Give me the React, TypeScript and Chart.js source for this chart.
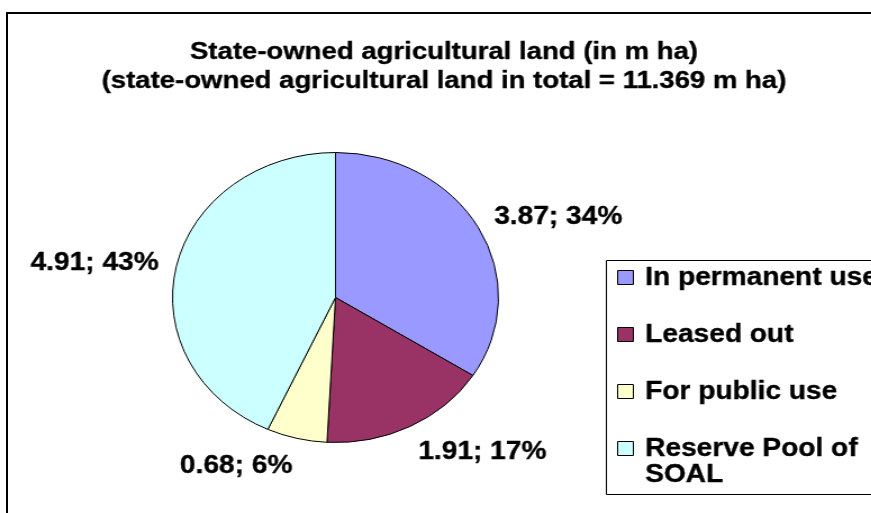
import React, { useEffect, useRef } from "react";
import { Chart, registerables } from "chart.js";

Chart.register(...registerables);

// ---- data ----
const categories = ["In permanent use", "Leased out", "For public use", "Reserve Pool of SOAL"];
const legendLines = [["In permanent use"], ["Leased out"], ["For public use"], ["Reserve Pool of", "SOAL"]];
const values = [3.87, 1.91, 0.68, 4.91];
const colors = ["#9999FF", "#993366", "#FFFFCC", "#CCFFFF"];
const titleLines = [
  "State-owned agricultural land (in m ha)",
  "(state-owned agricultural land in total = 11.369 m ha)",
];

// ---- layout (unscaled canvas space, stretched horizontally by SX) ----
const SX = 1.124;
const W = 775;
const H = 513;
const FAMILY = "'Liberation Sans', Arial, sans-serif";
const TITLE_FONT = `bold 24.5px ${FAMILY}`;
const LABEL_FONT = `bold 25px ${FAMILY}`;
const LEGEND_FONT = `bold 25px ${FAMILY}`;

function boldText(ctx: CanvasRenderingContext2D, t: string, x: number, y: number) {
  ctx.fillText(t, x, y);
  ctx.strokeText(t, x, y);
}

const decorPlugin = {
  id: "decor",
  afterDatasetsDraw(chart: any) {
    const ctx: CanvasRenderingContext2D = chart.ctx;
    ctx.save();
    ctx.fillStyle = "#000";
    ctx.strokeStyle = "#000";
    ctx.lineWidth = 0.35;
    ctx.lineJoin = "round";
    ctx.textBaseline = "alphabetic";

    // title
    ctx.font = TITLE_FONT;
    ctx.textAlign = "center";
    titleLines.forEach((t, i) => boldText(ctx, t, 395, 59 + i * 29));

    // data labels (outside end of each slice)
    ctx.font = LABEL_FONT;
    const meta = chart.getDatasetMeta(0);
    const total = values.reduce((a, b) => a + b, 0);
    meta.data.forEach((arc: any, i: number) => {
      const { x, y, startAngle, endAngle, outerRadius } = arc.getProps(
        ["x", "y", "startAngle", "endAngle", "outerRadius"],
        true
      );
      const mid = (startAngle + endAngle) / 2;
      const d = outerRadius + 16;
      const px = x + Math.cos(mid) * d;
      const py = y + Math.sin(mid) * d;
      const cy = py + Math.sin(mid) * 10;
      ctx.textAlign = Math.cos(mid) >= 0 ? "left" : "right";
      const text = `${values[i].toFixed(2)}; ${Math.round((values[i] / total) * 100)}%`;
      boldText(ctx, text, px, cy + 9);
    });

    // legend
    ctx.font = LEGEND_FONT;
    ctx.lineWidth = 1;
    ctx.strokeRect(539.5, 260.5, 400, 234);
    ctx.textAlign = "left";
    legendLines.forEach((lines, i) => {
      const b = 285 + 57 * i;
      ctx.fillStyle = colors[i];
      ctx.lineWidth = 1;
      ctx.fillRect(549.5, b - 14.5, 14, 14);
      ctx.strokeRect(549.5, b - 14.5, 14, 14);
      ctx.fillStyle = "#000";
      ctx.lineWidth = 0.35;
      lines.forEach((ln, j) => boldText(ctx, ln, 574, b + 26 * j));
    });
    ctx.restore();
  },
};

export default function App() {
  const ref = useRef<HTMLCanvasElement | null>(null);

  useEffect(() => {
    if (!ref.current) return;
    const chart = new Chart(ref.current, {
      type: "pie",
      data: {
        labels: categories,
        datasets: [
          {
            data: values,
            backgroundColor: colors,
            borderColor: "#000",
            borderWidth: 1,
            radius: 145,
            hoverOffset: 0,
          } as any,
        ],
      },
      options: {
        responsive: false,
        maintainAspectRatio: false,
        animation: false,
        layout: { padding: { left: 0, right: 178, top: 150, bottom: 68 } },
        plugins: {
          legend: { display: false },
          tooltip: { enabled: false },
          title: { display: false },
        },
        events: [],
      },
      plugins: [decorPlugin],
    });
    return () => chart.destroy();
  }, []);

  return (
    <div
      style={{
        position: "absolute",
        left: 0,
        top: 0,
        width: 871,
        height: 513,
        overflow: "hidden",
        background: "#fff",
      }}
    >
      <div
        style={{
          position: "absolute",
          left: 0,
          top: 0,
          width: W,
          height: H,
          transform: `scaleX(${SX})`,
          transformOrigin: "0 0",
        }}
      >
        <canvas ref={ref} width={W} height={H} style={{ display: "block" }} />
      </div>
      <div
        style={{
          position: "absolute",
          left: 6,
          top: 12,
          width: 1000,
          height: 1000,
          border: "2px solid #000",
          boxSizing: "border-box",
          pointerEvents: "none",
        }}
      />
    </div>
  );
}
